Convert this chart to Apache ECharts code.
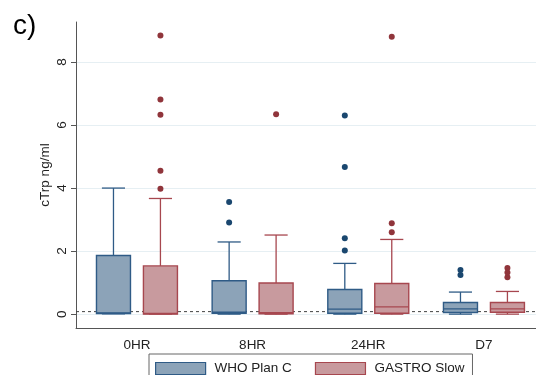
<!DOCTYPE html>
<html>
<head>
<meta charset="utf-8">
<title>cTrp by time point</title>
<script src="https://cdn.jsdelivr.net/npm/echarts@6/dist/echarts.min.js"></script>
<style>
  html, body { margin: 0; padding: 0; background: #fff; }
  #chart { width: 536px; height: 375px; }
</style>
</head>
<body>
<div id="chart"></div>
<script>
// Time points on the x axis
const categories = ['0HR', '8HR', '24HR', 'D7'];

// Box statistics per time point: [lower whisker, Q1, median, Q3, upper whisker]
const whoStats = [
  [0.01, 0.02, 0.04, 1.86, 4.00],
  [0.00, 0.03, 0.06, 1.06, 2.29],
  [0.00, 0.03, 0.16, 0.78, 1.61],
  [0.00, 0.05, 0.17, 0.37, 0.70]
];
const gastroStats = [
  [0.00, 0.00, 0.02, 1.53, 3.67],
  [0.00, 0.01, 0.05, 0.99, 2.51],
  [0.00, 0.03, 0.23, 0.97, 2.37],
  [0.00, 0.06, 0.17, 0.37, 0.72]
];

// Outside values per time point
const whoOutliers = [
  [],
  [2.91, 3.56],
  [2.02, 2.41, 4.67, 6.30],
  [1.24, 1.40]
];
const gastroOutliers = [
  [3.98, 4.55, 6.33, 6.81, 8.84],
  [6.34],
  [2.60, 2.88, 8.80],
  [1.17, 1.32, 1.46]
];

// Y axis tick labels and the dashed reference level
const yTicks = [0, 2, 4, 6, 8];
const refLevel = [0.08];

const FONT = '"Liberation Sans", Arial, sans-serif';
const NAVY = '#1a476f', NAVY_LINE = '#2f5b86', NAVY_FILL = '#8ca3b8';
const MAROON = '#90353b', MAROON_LINE = '#a7474f', MAROON_FILL = '#c89a9e';

function boxSeries(name, stats, outliers, offset, fill, stroke, dot) {
  return {
    type: 'custom',
    name: name,
    z: 3,
    data: stats.map((s, i) => [i].concat(s)),
    encode: { x: 0, y: [1, 2, 3, 4, 5] },
    renderItem: function (params, api) {
      const i = api.value(0);
      const unit = api.size([1, 0])[0];
      const cx = api.coord([i, 0])[0] + offset * unit;
      const py = v => api.coord([i, v])[1];
      const lo = py(api.value(1)), q1 = py(api.value(2)), med = py(api.value(3)),
            q3 = py(api.value(4)), hi = py(api.value(5));
      const half = 0.147 * unit, cap = 0.1 * unit;
      const line = { stroke: stroke, lineWidth: 1.3 };
      const children = [
        { type: 'line', shape: { x1: cx, y1: q3, x2: cx, y2: hi }, style: line },
        { type: 'line', shape: { x1: cx, y1: q1, x2: cx, y2: lo }, style: line },
        { type: 'line', shape: { x1: cx - cap, y1: hi, x2: cx + cap, y2: hi }, style: line },
        { type: 'line', shape: { x1: cx - cap, y1: lo, x2: cx + cap, y2: lo }, style: line },
        { type: 'rect', shape: { x: cx - half, y: q3, width: 2 * half, height: q1 - q3 },
          style: { fill: fill, stroke: stroke, lineWidth: 1.4 } },
        { type: 'line', shape: { x1: cx - half, y1: med, x2: cx + half, y2: med }, style: line }
      ];
      outliers[i].forEach(v => {
        children.push({ type: 'circle', shape: { cx: cx, cy: py(v), r: 3 }, style: { fill: dot } });
      });
      return { type: 'group', children: children };
    }
  };
}

const chart = echarts.init(document.getElementById('chart'), null, { renderer: 'canvas' });

chart.setOption({
  animation: false,
  backgroundColor: '#fff',
  title: {
    text: 'c)', left: 8, top: 7,
    textStyle: { fontFamily: FONT, fontSize: 28, fontWeight: 'normal', color: '#000' }
  },
  legend: {
    left: 149, top: 354,
    padding: [7.5, 8, 8, 6],
    itemWidth: 50, itemHeight: 12, itemGap: 23,
    borderColor: '#666', borderWidth: 1,
    icon: 'rect',
    textStyle: { fontFamily: FONT, fontSize: 13.5, color: '#222', padding: [0, 0, 0, 4] },
    data: [
      { name: 'WHO Plan C', itemStyle: { color: NAVY_FILL, borderColor: NAVY_LINE, borderWidth: 1.2 } },
      { name: 'GASTRO Slow', itemStyle: { color: MAROON_FILL, borderColor: MAROON_LINE, borderWidth: 1.2 } }
    ]
  },
  grid: { left: 76, right: 0, top: 22, bottom: 47 },
  xAxis: {
    type: 'value',
    min: -0.527, max: 3.45,
    axisLine: { show: true, onZero: false, lineStyle: { color: '#555', width: 1 } },
    axisTick: { show: false },
    splitLine: { show: false },
    axisLabel: {
      customValues: categories.map((c, i) => i),
      formatter: v => categories[v],
      margin: 10,
      fontFamily: FONT, fontSize: 13.5, color: '#222'
    }
  },
  yAxis: {
    type: 'value',
    min: -0.44, max: 9.27,
    name: 'cTrp ng/ml',
    nameLocation: 'middle',
    nameGap: 24,
    nameMoveOverlap: false,
    nameTextStyle: { fontFamily: FONT, fontSize: 13.5, color: '#222' },
    axisLine: { show: true, onZero: false, lineStyle: { color: '#555', width: 1 } },
    axisTick: { show: true, length: 5, customValues: yTicks, lineStyle: { color: '#555' } },
    axisLabel: {
      customValues: yTicks, rotate: 90, margin: 7,
      fontFamily: FONT, fontSize: 13.5, color: '#222'
    },
    splitLine: { show: true, lineStyle: { color: '#e6eff3', width: 1 } }
  },
  series: [
    {
      type: 'custom',
      name: 'reference',
      z: 1,
      silent: true,
      data: refLevel.map(v => [0, v]),
      encode: { x: 0, y: 1 },
      renderItem: function (params, api) {
        const y = api.coord([0, api.value(1)])[1];
        const cs = params.coordSys;
        return {
          type: 'line',
          shape: { x1: cs.x, y1: y, x2: cs.x + cs.width, y2: y },
          style: { stroke: '#444', lineWidth: 1, lineDash: [3, 3] }
        };
      }
    },
    boxSeries('WHO Plan C', whoStats, whoOutliers, -0.203, NAVY_FILL, NAVY_LINE, NAVY),
    boxSeries('GASTRO Slow', gastroStats, gastroOutliers, 0.203, MAROON_FILL, MAROON_LINE, MAROON)
  ]
});
</script>
</body>
</html>
